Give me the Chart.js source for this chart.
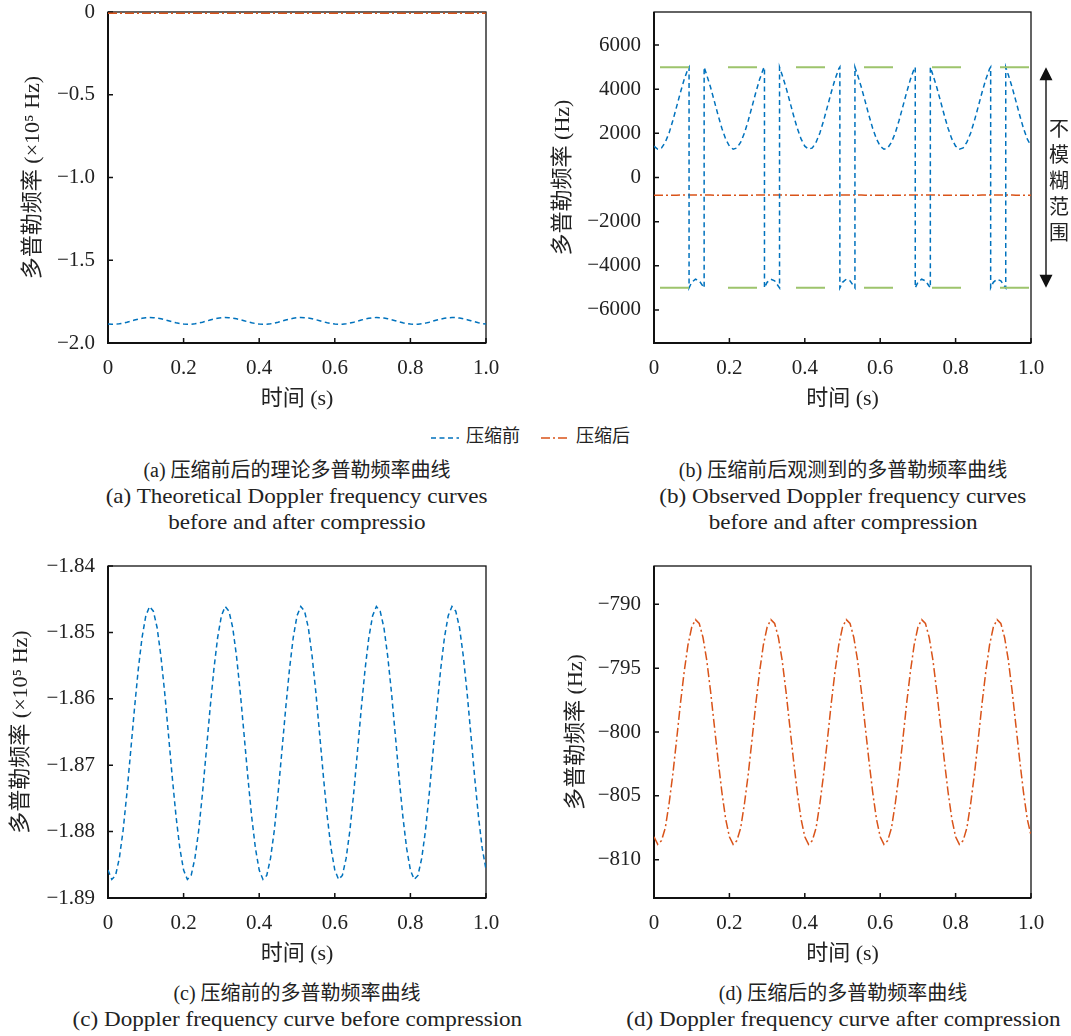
<!DOCTYPE html>
<html lang="zh">
<head>
<meta charset="UTF-8">
<title>压缩前后的多普勒频率曲线</title>
<script src="https://cdn.jsdelivr.net/npm/chart.js/dist/chart.umd.min.js"></script>
<style>
body {
    margin: 0;
    width: 1071px;
    height: 1036px;
    position: relative;
    overflow: hidden;
    background: #fff;
    color: #222;
    font-family: "Liberation Serif", "Noto Sans CJK SC", serif;
}
canvas { position: absolute; }
.cap {
    position: absolute;
    width: 600px;
    text-align: center;
    white-space: nowrap;
    font-size: 20px;
    line-height: 26px;
}
.cap .en {
    display: inline-block;
    font-size: 21px;
    transform: scaleX(1.1);
}
.legend-item {
    position: absolute;
    top: 423px;
    height: 26px;
    font-size: 18px;
    line-height: 26px;
    white-space: nowrap;
}
.legend-item svg { vertical-align: middle; margin-right: 6px; }
</style>
</head>
<body>

<canvas id="panelA" width="540" height="420" style="left:0;top:0"></canvas>
<canvas id="panelB" width="531" height="420" style="left:540px;top:0"></canvas>
<canvas id="panelC" width="540" height="429" style="left:0;top:546px"></canvas>
<canvas id="panelD" width="531" height="429" style="left:540px;top:546px"></canvas>

<!-- shared legend -->
<div class="legend-item" style="left:430px">
    <svg width="30" height="10"><line x1="1" y1="5" x2="29" y2="5" stroke="#0072BD" stroke-width="1.5" stroke-dasharray="5 3.5"/></svg>压缩前
</div>
<div class="legend-item" style="left:540px">
    <svg width="30" height="10"><line x1="1" y1="5" x2="29" y2="5" stroke="#D95319" stroke-width="1.5" stroke-dasharray="9 3 2 3"/></svg>压缩后
</div>

<div class="cap" style="left:-3px;top:457px">(a) 压缩前后的理论多普勒频率曲线<br><span class="en">(a) Theoretical Doppler frequency curves</span><br><span class="en">before and after compressio</span></div>
<div class="cap" style="left:543px;top:457px">(b) 压缩前后观测到的多普勒频率曲线<br><span class="en">(b) Observed Doppler frequency curves</span><br><span class="en">before and after compression</span></div>
<div class="cap" style="left:-3px;top:980px">(c) 压缩前的多普勒频率曲线<br><span class="en">(c) Doppler frequency curve before compression</span></div>
<div class="cap" style="left:543px;top:980px">(d) 压缩后的多普勒频率曲线<br><span class="en">(d) Doppler frequency curve after compression</span></div>

<script>
// sample times (s)
const timeS = [
    0, 0.01, 0.02, 0.03, 0.04, 0.05, 0.06, 0.07, 0.08, 0.09,
    0.10, 0.11, 0.12, 0.13, 0.14, 0.15, 0.16, 0.17, 0.18, 0.19,
    0.20, 0.21, 0.22, 0.23, 0.24, 0.25, 0.26, 0.27, 0.28, 0.29,
    0.30, 0.31, 0.32, 0.33, 0.34, 0.35, 0.36, 0.37, 0.38, 0.39,
    0.40, 0.41, 0.42, 0.43, 0.44, 0.45, 0.46, 0.47, 0.48, 0.49,
    0.50, 0.51, 0.52, 0.53, 0.54, 0.55, 0.56, 0.57, 0.58, 0.59,
    0.60, 0.61, 0.62, 0.63, 0.64, 0.65, 0.66, 0.67, 0.68, 0.69,
    0.70, 0.71, 0.72, 0.73, 0.74, 0.75, 0.76, 0.77, 0.78, 0.79,
    0.80, 0.81, 0.82, 0.83, 0.84, 0.85, 0.86, 0.87, 0.88, 0.89,
    0.90, 0.91, 0.92, 0.93, 0.94, 0.95, 0.96, 0.97, 0.98, 0.99,
    1.00
];

// Doppler before compression (x10^5 Hz)
const beforeE5 = [
    -1.8858, -1.8872, -1.8866, -1.8840, -1.8798, -1.8742, -1.8679, -1.8615, -1.8556, -1.8508,
    -1.8475, -1.8461, -1.8468, -1.8493, -1.8536, -1.8591, -1.8654, -1.8718, -1.8777, -1.8825,
    -1.8858, -1.8872, -1.8866, -1.8840, -1.8798, -1.8742, -1.8679, -1.8615, -1.8556, -1.8508,
    -1.8475, -1.8461, -1.8468, -1.8493, -1.8536, -1.8591, -1.8654, -1.8718, -1.8777, -1.8825,
    -1.8858, -1.8872, -1.8866, -1.8840, -1.8798, -1.8742, -1.8679, -1.8615, -1.8556, -1.8508,
    -1.8475, -1.8461, -1.8468, -1.8493, -1.8536, -1.8591, -1.8654, -1.8718, -1.8777, -1.8825,
    -1.8858, -1.8872, -1.8866, -1.8840, -1.8798, -1.8742, -1.8679, -1.8615, -1.8556, -1.8508,
    -1.8475, -1.8461, -1.8468, -1.8493, -1.8536, -1.8591, -1.8654, -1.8718, -1.8777, -1.8825,
    -1.8858, -1.8872, -1.8866, -1.8840, -1.8798, -1.8742, -1.8679, -1.8615, -1.8556, -1.8508,
    -1.8475, -1.8461, -1.8468, -1.8493, -1.8536, -1.8591, -1.8654, -1.8718, -1.8777, -1.8825,
    -1.8857
];

// Doppler after compression (Hz)
const afterHz = [
    -808.2, -808.8, -808.5, -807.5, -805.6, -803.3, -800.6, -797.8, -795.3, -793.2,
    -791.8, -791.2, -791.5, -792.6, -794.4, -796.8, -799.5, -802.2, -804.7, -806.8,
    -808.2, -808.8, -808.5, -807.5, -805.6, -803.3, -800.6, -797.8, -795.3, -793.2,
    -791.8, -791.2, -791.5, -792.6, -794.4, -796.8, -799.5, -802.2, -804.7, -806.8,
    -808.2, -808.8, -808.5, -807.5, -805.6, -803.3, -800.6, -797.8, -795.3, -793.2,
    -791.8, -791.2, -791.5, -792.6, -794.4, -796.8, -799.5, -802.2, -804.7, -806.8,
    -808.2, -808.8, -808.5, -807.5, -805.6, -803.3, -800.6, -797.8, -795.3, -793.2,
    -791.8, -791.2, -791.5, -792.6, -794.4, -796.8, -799.5, -802.2, -804.7, -806.8,
    -808.2, -808.8, -808.5, -807.5, -805.6, -803.3, -800.6, -797.8, -795.3, -793.2,
    -791.8, -791.2, -791.5, -792.6, -794.4, -796.8, -799.5, -802.2, -804.7, -806.8,
    -808.1
];

// observed (aliased) Doppler before compression, wraps at +/-5000 Hz
const obsTime = [
    0, 0.01, 0.02, 0.03, 0.04, 0.05, 0.06, 0.07, 0.08, 0.09, 0.093, 0.093,
    0.10, 0.11, 0.12, 0.13, 0.133, 0.133, 0.14, 0.15, 0.16, 0.17, 0.18, 0.19,
    0.20, 0.21, 0.22, 0.23, 0.24, 0.25, 0.26, 0.27, 0.28, 0.29, 0.293, 0.293,
    0.30, 0.31, 0.32, 0.33, 0.333, 0.333, 0.34, 0.35, 0.36, 0.37, 0.38, 0.39,
    0.40, 0.41, 0.42, 0.43, 0.44, 0.45, 0.46, 0.47, 0.48, 0.49, 0.493, 0.493,
    0.50, 0.51, 0.52, 0.53, 0.533, 0.533, 0.54, 0.55, 0.56, 0.57, 0.58, 0.59,
    0.60, 0.61, 0.62, 0.63, 0.64, 0.65, 0.66, 0.67, 0.68, 0.69, 0.693, 0.693,
    0.70, 0.71, 0.72, 0.73, 0.733, 0.733, 0.74, 0.75, 0.76, 0.77, 0.78, 0.79,
    0.80, 0.81, 0.82, 0.83, 0.84, 0.85, 0.86, 0.87, 0.88, 0.89, 0.893, 0.893,
    0.90, 0.91, 0.92, 0.93, 0.933, 0.933, 0.94, 0.95, 0.96, 0.97, 0.98, 0.99,
    1.00
];
const obsHz = [
    1420, 1280, 1340, 1600, 2020, 2580, 3210, 3850, 4440, 4920, 5000, -5000,
    -4750, -4610, -4680, -4930, -5000, 5000, 4640, 4090, 3460, 2820, 2230, 1750,
    1420, 1280, 1340, 1600, 2020, 2580, 3210, 3850, 4440, 4920, 5000, -5000,
    -4750, -4610, -4680, -4930, -5000, 5000, 4640, 4090, 3460, 2820, 2230, 1750,
    1420, 1280, 1340, 1600, 2020, 2580, 3210, 3850, 4440, 4920, 5000, -5000,
    -4750, -4610, -4680, -4930, -5000, 5000, 4640, 4090, 3460, 2820, 2230, 1750,
    1420, 1280, 1340, 1600, 2020, 2580, 3210, 3850, 4440, 4920, 5000, -5000,
    -4750, -4610, -4680, -4930, -5000, 5000, 4640, 4090, 3460, 2820, 2230, 1750,
    1420, 1280, 1340, 1600, 2020, 2580, 3210, 3850, 4440, 4920, 5000, -5000,
    -4750, -4610, -4680, -4930, -5000, 5000, 4640, 4090, 3460, 2820, 2230, 1750,
    1430
];

const ambiguityLimitHz = 5000;
const rangeLabel = '不模糊范围';

const xTicks = [0, 0.2, 0.4, 0.6, 0.8, 1.0];
const yTicksA = [-2, -1.5, -1, -0.5, 0];
const yTicksB = [-6000, -4000, -2000, 0, 2000, 4000, 6000];
const yTicksC = [-1.89, -1.88, -1.87, -1.86, -1.85, -1.84];
const yTicksD = [-810, -805, -800, -795, -790];

const BLUE = '#0072BD';
const ORANGE = '#D95319';
const GREEN = '#9DC46C';
const INK = '#222';
const FAMILY = '"Liberation Serif", "Noto Sans CJK SC", serif';

const xy = (xs, ys) => xs.map((x, i) => ({ x: x, y: ys[i] }));
const fmt = digits => v => v === 0 ? '0' : v.toFixed(digits).replace('-', '\u2212');

const beforeSeries = (data) => ({
    data: data, borderColor: BLUE, borderWidth: 1.5, borderDash: [5, 3.5],
    pointRadius: 0, fill: false, tension: 0
});
const afterSeries = (data) => ({
    data: data, borderColor: ORANGE, borderWidth: 1.5, borderDash: [9, 3, 2, 3],
    pointRadius: 0, fill: false, tension: 0
});

// box + inward ticks, drawn under the curves
const framePlugin = {
    id: 'frame',
    beforeDatasetsDraw(chart) {
        const { ctx, chartArea: a, scales } = chart;
        ctx.save();
        ctx.strokeStyle = '#111';
        ctx.lineWidth = 1.3;
        ctx.strokeRect(a.left, a.top, a.right - a.left, a.bottom - a.top);
        ctx.lineWidth = 2;
        ctx.beginPath();
        ctx.moveTo(a.left, a.top);
        ctx.lineTo(a.left, a.bottom);
        ctx.lineTo(a.right, a.bottom);
        ctx.stroke();
        ctx.lineWidth = 1.5;
        ctx.beginPath();
        scales.x.ticks.forEach(t => {
            const px = scales.x.getPixelForValue(t.value);
            ctx.moveTo(px, a.bottom);
            ctx.lineTo(px, a.bottom - 5);
        });
        scales.y.ticks.forEach(t => {
            const py = scales.y.getPixelForValue(t.value);
            ctx.moveTo(a.left, py);
            ctx.lineTo(a.left + 5, py);
        });
        ctx.stroke();
        ctx.restore();
    }
};

// double arrow marking the unambiguous band, right of panel (b)
const rangeArrow = {
    id: 'rangeArrow',
    afterDraw(chart) {
        const { ctx, chartArea: a, scales: { y } } = chart;
        const x = a.right + 15;
        const yTop = y.getPixelForValue(ambiguityLimitHz);
        const yBot = y.getPixelForValue(-ambiguityLimitHz);
        ctx.save();
        ctx.strokeStyle = '#111';
        ctx.fillStyle = '#111';
        ctx.lineWidth = 1.4;
        ctx.beginPath();
        ctx.moveTo(x, yTop + 10);
        ctx.lineTo(x, yBot - 10);
        ctx.stroke();
        ctx.beginPath();
        ctx.moveTo(x, yTop);
        ctx.lineTo(x - 6.5, yTop + 13);
        ctx.lineTo(x + 6.5, yTop + 13);
        ctx.closePath();
        ctx.moveTo(x, yBot);
        ctx.lineTo(x - 6.5, yBot - 13);
        ctx.lineTo(x + 6.5, yBot - 13);
        ctx.closePath();
        ctx.fill();
        ctx.fillStyle = INK;
        ctx.font = '20px "Noto Sans CJK SC"';
        ctx.textAlign = 'center';
        ctx.textBaseline = 'middle';
        const mid = (yTop + yBot) / 2 + 3;
        Array.from(rangeLabel).forEach((ch, i) => {
            ctx.fillText(ch, x + 13, mid + (i - 2) * 26);
        });
        ctx.restore();
    }
};

function makePanel(id, p) {
    return new Chart(document.getElementById(id), {
        type: 'line',
        data: { datasets: p.datasets },
        options: {
            responsive: false,
            animation: false,
            devicePixelRatio: 1,
            layout: { padding: p.pad },
            plugins: { legend: { display: false }, tooltip: { enabled: false } },
            scales: {
                x: {
                    type: 'linear', min: 0, max: 1,
                    afterBuildTicks: s => { s.ticks = xTicks.map(v => ({ value: v })); },
                    afterFit: s => { s.height = 77; s.paddingLeft = 0; s.paddingRight = 0; },
                    grid: { display: false, drawTicks: false },
                    border: { display: false },
                    ticks: {
                        callback: fmt(1), padding: 13, maxRotation: 0, autoSkip: false,
                        color: INK, font: { family: FAMILY, size: 21 }
                    },
                    title: {
                        display: true, text: '时间 (s)', color: INK,
                        font: { family: FAMILY, size: 22 }, padding: { top: 0, bottom: 8 }
                    }
                },
                y: {
                    type: 'linear', min: p.yMin, max: p.yMax,
                    afterBuildTicks: s => { s.ticks = p.yTicks.map(v => ({ value: v })); },
                    // fixed axis width; labels may overhang the plot edges
                    afterFit: s => { s.width = p.yWidth; s.paddingTop = 0; s.paddingBottom = 0; },
                    grid: { display: false, drawTicks: false },
                    border: { display: false },
                    ticks: {
                        callback: fmt(p.digits), padding: 13, autoSkip: false,
                        color: INK, font: { family: FAMILY, size: 21 }
                    },
                    title: {
                        display: true, text: p.yTitle, color: INK,
                        font: { family: FAMILY, size: 22 }, padding: { top: p.titlePad, bottom: 0 }
                    }
                }
            }
        },
        plugins: [framePlugin].concat(p.extra || [])
    });
}

// (a) theoretical curves, both on the x10^5 Hz scale
makePanel('panelA', {
    datasets: [
        beforeSeries(xy(timeS, beforeE5)),
        afterSeries(xy(timeS, afterHz.map(v => v / 1e5)))
    ],
    yMin: -2, yMax: 0, yTicks: yTicksA, digits: 1,
    yWidth: 108, titlePad: 20,
    pad: { top: 12, right: 54, bottom: 0, left: 0 },
    yTitle: '多普勒频率 (×10⁵ Hz)'
});

// (b) observed curves with the +/-5000 Hz limits
makePanel('panelB', {
    datasets: [
        {
            data: [{ x: 0, y: ambiguityLimitHz }, { x: 1, y: ambiguityLimitHz }],
            borderColor: GREEN, borderWidth: 2, borderDash: [29, 39], borderDashOffset: 62,
            pointRadius: 0, fill: false
        },
        {
            data: [{ x: 0, y: -ambiguityLimitHz }, { x: 1, y: -ambiguityLimitHz }],
            borderColor: GREEN, borderWidth: 2, borderDash: [29, 39], borderDashOffset: 62,
            pointRadius: 0, fill: false
        },
        beforeSeries(xy(obsTime, obsHz)),
        afterSeries(xy(timeS, afterHz))
    ],
    yMin: -7500, yMax: 7500, yTicks: yTicksB, digits: 0,
    yWidth: 114, titlePad: 10,
    pad: { top: 12, right: 40, bottom: 0, left: 0 },
    yTitle: '多普勒频率 (Hz)',
    extra: [rangeArrow]
});

// (c) before compression, zoomed
makePanel('panelC', {
    datasets: [beforeSeries(xy(timeS, beforeE5))],
    yMin: -1.89, yMax: -1.84, yTicks: yTicksC, digits: 2,
    yWidth: 108, titlePad: 8,
    pad: { top: 20, right: 54, bottom: 0, left: 0 },
    yTitle: '多普勒频率 (×10⁵ Hz)'
});

// (d) after compression, zoomed
makePanel('panelD', {
    datasets: [afterSeries(xy(timeS, afterHz))],
    yMin: -813, yMax: -787, yTicks: yTicksD, digits: 0,
    yWidth: 114, titlePad: 23,
    pad: { top: 20, right: 40, bottom: 0, left: 0 },
    yTitle: '多普勒频率 (Hz)'
});
</script>
</body>
</html>
